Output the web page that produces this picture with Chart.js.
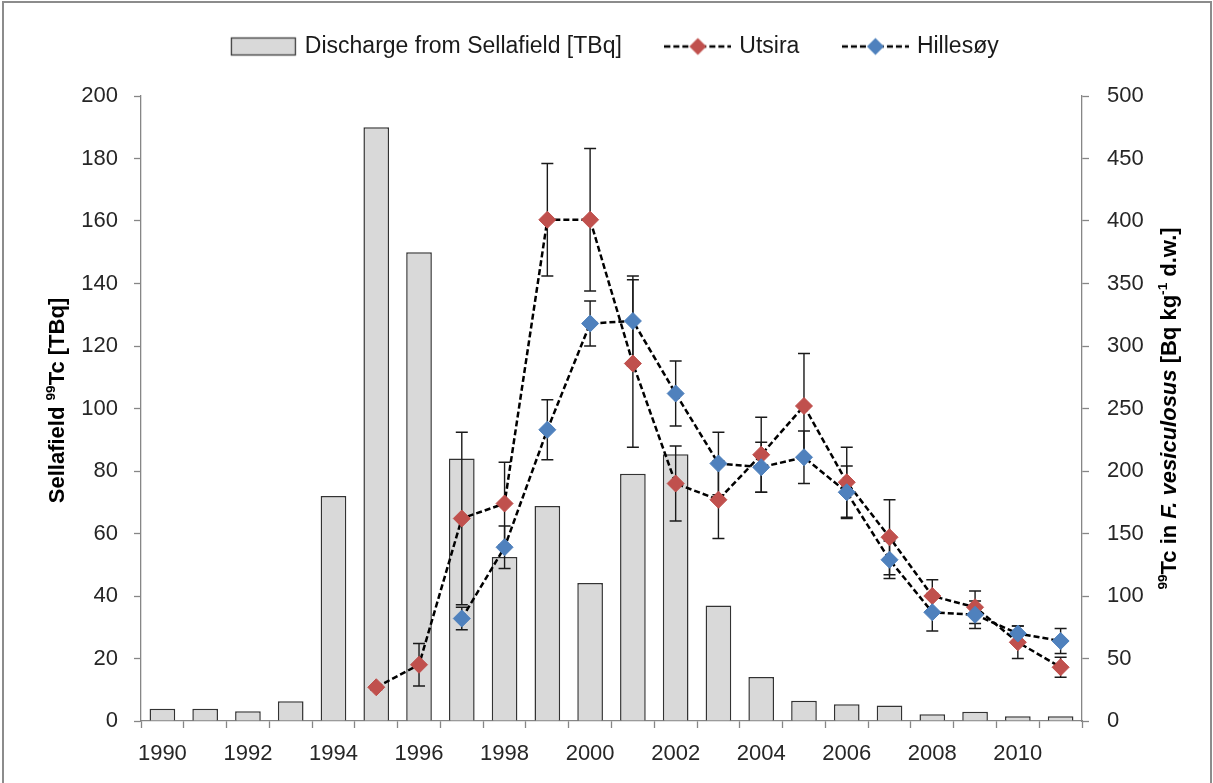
<!DOCTYPE html>
<html>
<head>
<meta charset="utf-8">
<script src="https://cdn.jsdelivr.net/npm/chart.js@4.4.1/dist/chart.umd.min.js"></script>
<style>
  html, body { margin: 0; padding: 0; background: #ffffff; }
  #wrap { width: 1213px; height: 783px; }
</style>
</head>
<body>
<div id="wrap"><canvas id="chart" width="1213" height="783"></canvas></div>
<script>
// Years on the category axis
const years = ['1990','1991','1992','1993','1994','1995','1996','1997','1998','1999','2000',
               '2001','2002','2003','2004','2005','2006','2007','2008','2009','2010','2011'];
// Years that carry a label under the axis
const labelledYears = ['1990','1992','1994','1996','1998','2000','2002','2004','2006','2008','2010'];

// Annual 99Tc discharge from Sellafield [TBq]
const discharge = [3.9, 3.9, 3.1, 6.3, 72, 190, 150, 84, 52.5, 68.8, 44.2,
                   79.1, 85.4, 37, 14.1, 6.5, 5.4, 5, 2.2, 3, 1.5, 1.5];

// 99Tc in F. vesiculosus [Bq/kg d.w.] with +/- uncertainty
const utsira      = [null, null, null, null, null, 27, 45, 162, 174, 401, 401,
                     286, 190, 177, 213, 252, 191, 147, 100, 91, 63, 43];
const utsiraErr   = [0, 0, 0, 0, 0, 2, 17, 69, 33, 45, 57,
                     67, 30, 31, 30, 42, 28, 30, 13, 13, 13, 8];
const hillesoy    = [null, null, null, null, null, null, null, 82, 139, 233, 318,
                     320, 262, 206, 203, 211, 183, 129, 87, 85, 70, 64];
const hillesoyErr = [0, 0, 0, 0, 0, 0, 0, 9, 17, 24, 18,
                     36, 26, 25, 20, 21, 21, 15, 15, 11, 6, 10];

// Axis tick values
const leftTicks  = [0, 20, 40, 60, 80, 100, 120, 140, 160, 180, 200];
const rightTicks = [0, 50, 100, 150, 200, 250, 300, 350, 400, 450, 500];

const FONT = "'Liberation Sans', Arial, sans-serif";
const AXIS_GREY = '#868686';
const RED = '#C0504D';
const BLUE = '#4F81BD';

Chart.defaults.font.family = FONT;
Chart.defaults.color = '#262626';

// Legend swatches: grey bar, and dashed line with a diamond marker
function swatch(kind, color) {
  const c = document.createElement('canvas');
  c.width = 67; c.height = 22;
  const g = c.getContext('2d');
  if (kind === 'bar') {
    g.fillStyle = '#d9d9d9';
    g.fillRect(1.5, 2.5, 64, 17);
    g.strokeStyle = '#3c3c3c';
    g.lineWidth = 1.3;
    g.strokeRect(1.5, 2.5, 64, 17);
  } else {
    g.strokeStyle = '#000';
    g.lineWidth = 2.5;
    g.setLineDash([6, 3]);
    g.beginPath(); g.moveTo(0, 11); g.lineTo(67, 11); g.stroke();
    g.fillStyle = color;
    g.beginPath();
    g.moveTo(33.5 - 8.5, 11); g.lineTo(33.5, 2.5); g.lineTo(33.5 + 8.5, 11); g.lineTo(33.5, 19.5);
    g.closePath(); g.fill();
  }
  return c;
}
const swatches = [swatch('bar'), swatch('line', RED), swatch('line', BLUE)];

// Vertical error bars with caps, drawn over the bars and under the lines
const errorBars = {
  id: 'errorBars',
  afterDatasetDraw(chart, args) {
    if (args.index !== 0) return;
    const ctx = chart.ctx;
    const xs = chart.scales.x, ys = chart.scales.y1;
    ctx.save();
    ctx.strokeStyle = '#1a1a1a';
    ctx.lineWidth = 1.4;
    [[utsira, utsiraErr], [hillesoy, hillesoyErr]].forEach(([vals, errs]) => {
      vals.forEach((v, i) => {
        if (v == null || !errs[i]) return;
        const px = xs.getPixelForValue(i);
        const top = ys.getPixelForValue(v + errs[i]);
        const bot = ys.getPixelForValue(v - errs[i]);
        ctx.beginPath();
        ctx.moveTo(px, top); ctx.lineTo(px, bot);
        ctx.moveTo(px - 6, top); ctx.lineTo(px + 6, top);
        ctx.moveTo(px - 6, bot); ctx.lineTo(px + 6, bot);
        ctx.stroke();
      });
    });
    ctx.restore();
  }
};

// Rotated axis titles with superscripts and italics
function drawRich(ctx, runs, cx, cy, size) {
  ctx.save();
  ctx.translate(cx, cy);
  ctx.rotate(-Math.PI / 2);
  ctx.textBaseline = 'middle';
  ctx.textAlign = 'left';
  ctx.fillStyle = '#000';
  const fontOf = r => (r.italic ? 'italic ' : '') + 'bold ' + (r.sup ? size * 0.62 : size) + 'px ' + FONT;
  let total = 0;
  runs.forEach(r => { ctx.font = fontOf(r); r.w = ctx.measureText(r.t).width; total += r.w; });
  let x = -total / 2;
  runs.forEach(r => {
    ctx.font = fontOf(r);
    ctx.fillText(r.t, x, r.sup ? -size * 0.3 : 0);
    x += r.w;
  });
  ctx.restore();
}
const axisTitles = {
  id: 'axisTitles',
  afterDraw(chart) {
    const a = chart.chartArea;
    const cy = (a.top + a.bottom) / 2;
    drawRich(chart.ctx, [
      { t: 'Sellafield ' }, { t: '99', sup: true }, { t: 'Tc [TBq]' }
    ], a.left - 83, cy - 8, 22);
    drawRich(chart.ctx, [
      { t: '99', sup: true }, { t: 'Tc in ' }, { t: 'F. vesiculosus', italic: true },
      { t: ' [Bq kg' }, { t: '-1', sup: true }, { t: ' d.w.]' }
    ], a.right + 88, cy, 22);
  }
};

// White background and grey outer frame
const frame = {
  id: 'frame',
  beforeDraw(chart) {
    const ctx = chart.ctx;
    ctx.save();
    ctx.fillStyle = '#ffffff';
    ctx.fillRect(0, 0, chart.width, chart.height);
    ctx.restore();
  },
  afterDraw(chart) {
    const ctx = chart.ctx;
    ctx.save();
    ctx.strokeStyle = '#8c8c8c';
    ctx.lineWidth = 2;
    ctx.strokeRect(3, 2, chart.width - 5, chart.height + 10);
    ctx.restore();
  }
};

const tickGrid = { drawOnChartArea: false, tickLength: 7, tickColor: AXIS_GREY, tickWidth: 1.3 };
const axisBorder = { display: true, color: AXIS_GREY, width: 1.3 };

new Chart(document.getElementById('chart'), {
  type: 'bar',
  data: {
    labels: years,
    datasets: [
      {
        type: 'bar',
        label: 'Discharge from Sellafield [TBq]',
        data: discharge,
        yAxisID: 'y',
        backgroundColor: '#d9d9d9',
        borderColor: '#333333',
        borderWidth: 1.5,
        barPercentage: 0.6,
        categoryPercentage: 1,
        order: 3
      },
      {
        type: 'line',
        label: 'Utsira',
        data: utsira,
        yAxisID: 'y1',
        borderColor: '#000',
        borderWidth: 2.5,
        borderDash: [6, 3],
        fill: false,
        tension: 0,
        pointStyle: 'rectRot',
        pointRadius: 8.5,
        pointBackgroundColor: RED,
        pointBorderColor: RED,
        pointBorderWidth: 1,
        order: 2
      },
      {
        type: 'line',
        label: 'Hillesøy',
        data: hillesoy,
        yAxisID: 'y1',
        borderColor: '#000',
        borderWidth: 2.5,
        borderDash: [6, 3],
        fill: false,
        tension: 0,
        pointStyle: 'rectRot',
        pointRadius: 8.5,
        pointBackgroundColor: BLUE,
        pointBorderColor: BLUE,
        pointBorderWidth: 1,
        order: 1
      }
    ]
  },
  options: {
    responsive: false,
    animation: false,
    layout: { padding: { top: -11, left: 19, right: 0, bottom: 0 } },
    plugins: {
      tooltip: { enabled: false },
      legend: {
        position: 'top',
        align: 'center',
        labels: {
          usePointStyle: true,
          pointStyleWidth: 60,
          padding: 46,
          color: '#1a1a1a',
          font: { size: 23 },
          sort: (a, b) => a.datasetIndex - b.datasetIndex,
          generateLabels(chart) {
            const items = Chart.defaults.plugins.legend.labels.generateLabels(chart);
            items.forEach(it => { it.pointStyle = swatches[it.datasetIndex]; });
            return items;
          }
        }
      },
      subtitle: {
        display: true,
        text: '',
        weight: 500,
        font: { size: 10, lineHeight: 1 },
        padding: { top: 0, bottom: 18 }
      }
    },
    scales: {
      x: {
        type: 'category',
        offset: true,
        grid: Object.assign({ offset: true }, tickGrid),
        border: axisBorder,
        ticks: {
          autoSkip: false,
          maxRotation: 0,
          padding: 13,
          font: { size: 22 },
          callback(v, i) {
            const l = years[i];
            return labelledYears.includes(l) ? l : '';
          }
        },
        afterFit(s) { s.height = 62; }
      },
      y: {
        position: 'left',
        min: 0,
        max: 200,
        grid: tickGrid,
        border: axisBorder,
        ticks: { padding: 16, font: { size: 22 } },
        afterBuildTicks(s) { s.ticks = leftTicks.map(v => ({ value: v })); },
        afterFit(s) { s.width = 122; }
      },
      y1: {
        position: 'right',
        min: 0,
        max: 500,
        grid: tickGrid,
        border: axisBorder,
        ticks: { padding: 18, font: { size: 22 } },
        afterBuildTicks(s) { s.ticks = rightTicks.map(v => ({ value: v })); },
        afterFit(s) { s.width = 131; }
      }
    }
  },
  plugins: [frame, errorBars, axisTitles]
});
</script>
</body>
</html>
